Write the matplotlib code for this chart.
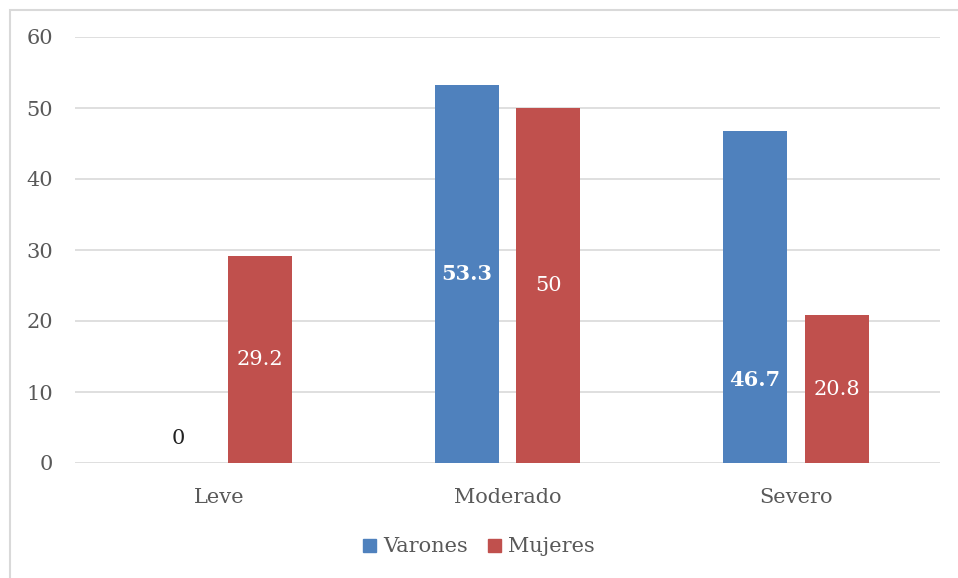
import matplotlib
matplotlib.use("Agg")
import matplotlib.pyplot as plt
from matplotlib.patches import Rectangle
import numpy as np

categories = ["Leve", "Moderado", "Severo"]
series_names = ["Varones", "Mujeres"]
varones = [0, 53.3, 46.7]
mujeres = [29.2, 50, 20.8]
yticks = [0, 10, 20, 30, 40, 50, 60]

BLUE = "#4F81BD"
RED = "#C0504D"
GRAY = "#595959"
GRID = "#D9D9D9"

plt.rcParams["font.family"] = ["DejaVu Serif"]
FS = 15

W, H = 958, 578
fig = plt.figure(figsize=(W / 100, H / 100), dpi=100)

# outer border (right and bottom edges fall outside the image)
fig.patches.append(Rectangle((10 / W, -0.05), 1.1, 1 - 10 / H + 0.05, transform=fig.transFigure,
                             fill=False, edgecolor=GRID, linewidth=1.5))

ax = fig.add_axes([75 / W, 1 - 463 / H, (940 - 75) / W, (463 - 37) / H])
x = np.arange(len(categories))
bw = 0.222
off = 0.142
ax.bar(x - off, varones, bw, color=BLUE, zorder=3)
ax.bar(x + off, mujeres, bw, color=RED, zorder=3)

ax.set_xlim(-0.5, len(categories) - 0.5)
ax.set_ylim(0, 60)
ax.set_yticks(yticks)
ax.set_yticklabels([str(t) for t in yticks])
ax.set_xticks(x)
ax.set_xticklabels(categories)
ax.tick_params(axis="both", length=0, labelsize=FS, colors=GRAY)
ax.tick_params(axis="y", pad=16)
ax.tick_params(axis="x", pad=18)
for s in ax.spines.values():
    s.set_visible(False)
ax.grid(axis="y", color=GRID, linewidth=1.2, zorder=0)

# data labels
ax.text(x[0] - off, 3.5, f"{varones[0]:g}", ha="center", va="center", fontsize=FS, color="#222222", zorder=4)
ax.text(x[1] - off, varones[1] / 2, f"{varones[1]:g}", ha="center", va="center", fontsize=FS,
        color="white", fontweight="bold", zorder=4)
ax.text(x[2] - off, 11.7, f"{varones[2]:g}", ha="center", va="center", fontsize=FS,
        color="white", fontweight="bold", zorder=4)
for i, v in enumerate(mujeres):
    ax.text(x[i] + off, v / 2, f"{v:g}", ha="center", va="center", fontsize=FS, color="white", zorder=4)

handles = [Rectangle((0, 0), 1, 1, color=BLUE), Rectangle((0, 0), 1, 1, color=RED)]
leg = fig.legend(handles, series_names, loc="center", bbox_to_anchor=(0.5, 1 - 547 / H), ncol=2,
                 frameon=False, fontsize=FS, handlelength=0.6, handleheight=0.6, handletextpad=0.35,
                 columnspacing=1.0)
for t in leg.get_texts():
    t.set_color(GRAY)

fig.savefig("out.png", dpi=100)
